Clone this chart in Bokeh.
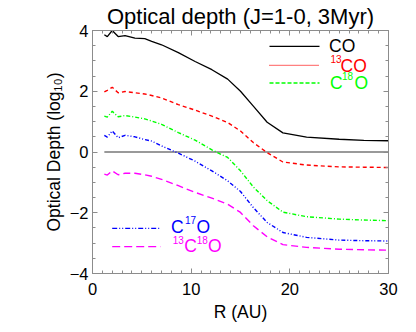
from bokeh.plotting import figure
from bokeh.models import LinearAxis, FixedTicker, Label, Arrow, Range1d
from bokeh.embed import file_html
from bokeh.resources import INLINE

# ---------------- data ----------------
R = [1.2, 1.5, 2.0, 2.6, 3.3, 4.3, 5.3, 6.0, 7.0, 8.7, 10.4, 12.1, 13.7,
     15.0, 16.3, 17.7, 19.3, 21.7, 25.0, 27.5, 30.0]
tau_CO = [3.86, 3.80, 4.00, 3.80, 3.83, 3.75, 3.73, 3.64, 3.53, 3.27, 2.98,
          2.71, 2.40, 2.00, 1.51, 0.98, 0.63, 0.49, 0.42, 0.38, 0.37]
tau_13CO = [1.98, 2.03, 2.13, 1.95, 1.99, 1.95, 1.91, 1.86, 1.78, 1.56, 1.38,
            1.18, 0.97, 0.69, 0.31, -0.02, -0.33, -0.43, -0.49, -0.50, -0.51]
tau_C18O = [1.18, 1.15, 1.34, 1.16, 1.20, 1.15, 1.09, 1.02, 0.91, 0.64, 0.39,
            0.07, -0.18, -0.62, -1.15, -1.60, -1.98, -2.13, -2.21, -2.24, -2.26]
tau_C17O = [0.55, 0.49, 0.69, 0.47, 0.55, 0.50, 0.41, 0.36, 0.20, -0.04, -0.30,
            -0.62, -0.95, -1.30, -1.83, -2.32, -2.65, -2.81, -2.90, -2.92, -2.93]
tau_13C18O = [-0.73, -0.76, -0.62, -0.75, -0.70, -0.70, -0.75, -0.80, -0.90,
              -1.11, -1.33, -1.52, -1.72, -1.99, -2.43, -2.79, -3.05, -3.14,
              -3.20, -3.22, -3.23]

x_ticks = [0, 10, 20, 30]
y_ticks = [-4, -2, 0, 2, 4]
x_minor = list(range(0, 31))
y_minor = [v * 0.5 for v in range(-8, 9)]

title_text = "Optical depth (J=1-0, 3Myr)"
xlabel_text = "R (AU)"
ylabel_text = "Optical Depth (log\u2081\u2080)"

# ---------------- layout / style ----------------
FONT = "Liberation Sans"
BIG = "17.5px"
SMALL = "10px"
AX = "#8c8c8c"
GREEN = "#00ff00"
# frame in picture pixels (for placing annotations)
FL, FR, FT, FB = 92.0, 388.0, 29.0, 273.0


def pt(px, py):
    return ((px - FL) * 30.0 / (FR - FL), 4.0 - (py - FT) * 8.0 / (FB - FT))


p = figure(width=400, height=324, output_backend="svg", toolbar_location=None,
           x_range=Range1d(0, 30), y_range=Range1d(-4, 4),
           min_border_left=92, min_border_right=12, min_border_top=29,
           min_border_bottom=51, title=title_text)
p.xgrid.visible = False
p.ygrid.visible = False
p.outline_line_color = None
p.background_fill_color = "white"
p.border_fill_color = "white"

p.title.align = "center"
p.title.text_font = FONT
p.title.text_font_size = "22px"
p.title.text_font_style = "normal"
p.title.text_color = "black"
p.title.standoff = 3
p.title.offset = 0

p.add_layout(LinearAxis(), "above")
p.add_layout(LinearAxis(), "right")

for ax in p.xaxis:
    ax.ticker = FixedTicker(ticks=x_ticks, minor_ticks=x_minor)
for ax in p.yaxis:
    ax.ticker = FixedTicker(ticks=y_ticks, minor_ticks=y_minor)

for ax in p.xaxis + p.yaxis:
    ax.major_tick_in = 5
    ax.major_tick_out = 0
    ax.minor_tick_in = 3
    ax.minor_tick_out = 0
    ax.axis_line_color = AX
    ax.major_tick_line_color = AX
    ax.minor_tick_line_color = AX
    ax.major_label_text_font = FONT
    ax.major_label_text_font_size = "16.5px"
    ax.major_label_text_color = "black"
    ax.axis_label_text_font = FONT
    ax.axis_label_text_font_size = BIG
    ax.axis_label_text_font_style = "normal"
    ax.axis_label_text_color = "black"

p.below[0].major_label_standoff = 9
p.below[0].axis_label = xlabel_text
p.below[0].axis_label_standoff = 4
p.left[0].major_label_standoff = 4
p.left[0].axis_label = ylabel_text
p.left[0].axis_label_standoff = 3
p.above[0].major_label_overrides = {t: "" for t in x_ticks}
p.right[0].major_label_overrides = {t: "" for t in y_ticks}
for ax in (p.above[0], p.right[0]):
    ax.major_label_standoff = 0

# zero line
p.line([R[0], R[-1]], [0, 0], line_color="#999999", line_width=2)

# curves
p.line(R, tau_CO, line_color="black", line_width=1.3)
p.line(R, tau_13CO, line_color="red", line_width=1.4, line_dash="4 3")
p.line(R, tau_C18O, line_color=GREEN, line_width=1.4, line_dash="4 2 1 2")
p.line(R, tau_C17O, line_color="blue", line_width=1.4, line_dash="4 2 1 2 1 2")
p.line(R, tau_13C18O, line_color="magenta", line_width=1.4, line_dash="7 4")

# legend samples (annotation lines)
legend_lines = [
    (269, 319, 45.0, "black", None),
    (269, 319, 64.0, "red", "1 1"),
    (269, 319, 81.7, GREEN, "4 2"),
    (111.7, 160, 227.7, "blue", "5 2 1 2 1 2"),
    (111.7, 160, 246.0, "magenta", "8 4"),
]
for x0, x1, yy, col, dash in legend_lines:
    xa, ya = pt(x0, yy)
    xb, _ = pt(x1, yy)
    kw = dict(line_color=col, line_width=1.3)
    if dash:
        kw["line_dash"] = dash
    p.add_layout(Arrow(start=None, end=None, x_start=xa, y_start=ya,
                       x_end=xb, y_end=ya, **kw))

# legend texts (with superscripts)
legend_texts = [
    ("CO", 328.5, 44.5, BIG, "black"),
    ("13", 330.0, 57.5, SMALL, "red"), ("CO", 340.0, 64.3, BIG, "red"),
    ("C", 329.5, 81.5, BIG, GREEN), ("18", 341.5, 74.8, SMALL, GREEN),
    ("O", 354.0, 81.5, BIG, GREEN),
    ("C", 170.5, 226.7, BIG, "blue"), ("17", 184.5, 219.5, SMALL, "blue"),
    ("O", 196.0, 226.7, BIG, "blue"),
    ("13", 172.2, 239.0, SMALL, "magenta"), ("C", 183.8, 245.7, BIG, "magenta"),
    ("18", 196.2, 239.0, SMALL, "magenta"), ("O", 207.5, 245.7, BIG, "magenta"),
]
for txt, px, py, size, col in legend_texts:
    xx, yy = pt(px, py)
    p.add_layout(Label(x=xx, y=yy, text=txt, text_align="left",
                       text_baseline="alphabetic", text_font=FONT,
                       text_font_size=size, text_color=col))

open("out.html", "w").write(file_html(p, INLINE))
